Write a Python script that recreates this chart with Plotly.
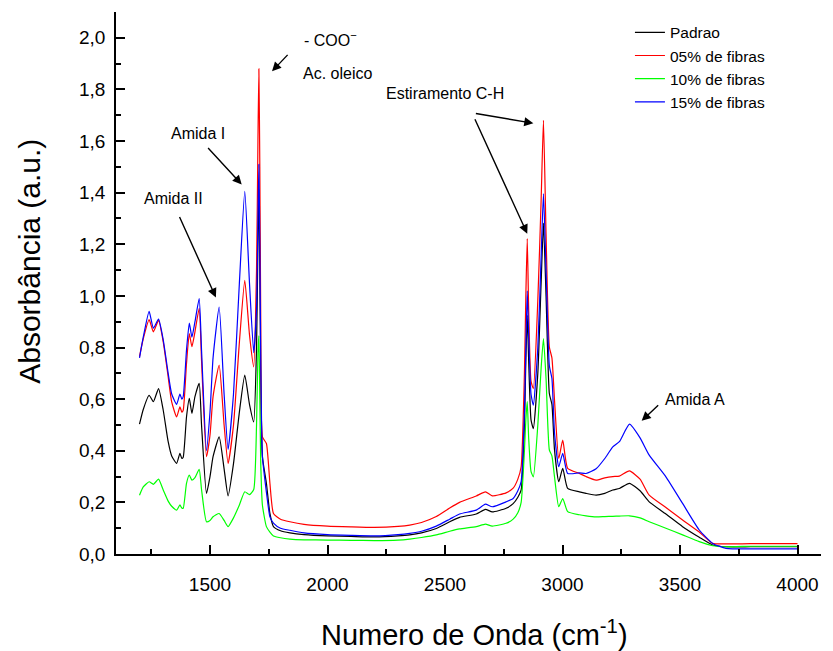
import plotly.graph_objects as go

wavenumber = [1200, 1216, 1241, 1259, 1281, 1301, 1322, 1337, 1358, 1372, 1380, 1386, 1400, 1412, 1423, 1436,
              1454, 1464, 1485, 1500, 1513, 1539, 1560, 1577, 1600, 1625, 1648, 1668, 1686, 1698, 1704, 1708,
              1712, 1716, 1723, 1740, 1755, 1770, 1800, 1840, 1900, 2000, 2100, 2200, 2300, 2350, 2400, 2463,
              2520, 2562, 2633, 2672, 2701, 2760, 2790, 2810, 2824, 2838, 2844, 2850, 2856, 2866, 2876, 2895,
              2909, 2919, 2930, 2944, 2955, 2966, 2984, 3001, 3022, 3072, 3100, 3143, 3180, 3214, 3242, 3285,
              3330, 3369, 3440, 3511, 3582, 3639, 3696, 3800, 3900, 4000]

padrao = [0.503, 0.56, 0.615, 0.59, 0.641, 0.557, 0.435, 0.38, 0.351, 0.39, 0.37, 0.375, 0.531, 0.603, 0.545, 0.61,
          0.661, 0.5, 0.235, 0.30, 0.377, 0.454, 0.33, 0.225, 0.35, 0.55, 0.693, 0.58, 0.512, 0.8, 1.2, 1.41,
          1.1, 0.7, 0.377, 0.274, 0.157, 0.106, 0.09, 0.082, 0.075, 0.07, 0.068, 0.066, 0.07, 0.074, 0.082, 0.099,
          0.125, 0.142, 0.155, 0.173, 0.163, 0.177, 0.195, 0.22, 0.248, 0.5, 0.75, 0.925, 0.75, 0.52, 0.486, 0.7,
          1.05, 1.282, 1.0, 0.622, 0.58, 0.403, 0.28, 0.332, 0.254, 0.241, 0.235, 0.228, 0.235, 0.248, 0.254, 0.274,
          0.245, 0.202, 0.155, 0.106, 0.065, 0.035, 0.028, 0.028, 0.028, 0.028]

fibras05 = [0.765, 0.834, 0.908, 0.861, 0.905, 0.822, 0.686, 0.589, 0.531, 0.57, 0.55, 0.557, 0.738, 0.854, 0.803, 0.861,
            0.952, 0.75, 0.377, 0.46, 0.61, 0.732, 0.50, 0.351, 0.50, 0.82, 1.06, 0.85, 0.725, 1.1, 1.6, 1.88,
            1.5, 0.9, 0.454, 0.428, 0.274, 0.157, 0.135, 0.125, 0.115, 0.108, 0.105, 0.103, 0.107, 0.112, 0.122, 0.145,
            0.178, 0.2, 0.225, 0.241, 0.225, 0.237, 0.255, 0.29, 0.338, 0.70, 1.0, 1.222, 0.95, 0.67, 0.641, 0.983,
            1.37, 1.68, 1.24, 0.802, 0.76, 0.596, 0.37, 0.441, 0.332, 0.312, 0.30, 0.286, 0.295, 0.30, 0.302, 0.322,
            0.29, 0.228, 0.18, 0.132, 0.085, 0.041, 0.039, 0.04, 0.04, 0.04]

fibras10 = [0.228, 0.26, 0.28, 0.27, 0.29, 0.248, 0.205, 0.185, 0.17, 0.19, 0.178, 0.177, 0.274, 0.306, 0.286, 0.296,
            0.328, 0.25, 0.125, 0.13, 0.144, 0.157, 0.13, 0.106, 0.14, 0.19, 0.241, 0.23, 0.25, 0.5, 0.78, 0.845,
            0.6, 0.35, 0.19, 0.106, 0.085, 0.07, 0.063, 0.058, 0.055, 0.054, 0.053, 0.052, 0.054, 0.058, 0.064, 0.074,
            0.088, 0.097, 0.106, 0.116, 0.108, 0.119, 0.135, 0.16, 0.2, 0.4, 0.52, 0.59, 0.45, 0.32, 0.299, 0.5,
            0.72, 0.835, 0.68, 0.403, 0.38, 0.299, 0.183, 0.215, 0.164, 0.152, 0.148, 0.144, 0.145, 0.146, 0.147, 0.148,
            0.14, 0.125, 0.1, 0.074, 0.048, 0.032, 0.028, 0.03, 0.03, 0.03]

fibras15 = [0.76, 0.84, 0.94, 0.875, 0.91, 0.83, 0.70, 0.62, 0.58, 0.62, 0.60, 0.61, 0.79, 0.895, 0.84, 0.90,
            0.99, 0.79, 0.40, 0.55, 0.76, 0.957, 0.62, 0.405, 0.62, 1.05, 1.405, 1.05, 0.78, 0.95, 1.3, 1.51,
            1.2, 0.75, 0.38, 0.24, 0.144, 0.12, 0.10, 0.092, 0.082, 0.075, 0.072, 0.07, 0.075, 0.08, 0.088, 0.108,
            0.135, 0.155, 0.17, 0.193, 0.183, 0.202, 0.215, 0.245, 0.28, 0.55, 0.8, 1.02, 0.85, 0.62, 0.577, 0.8,
            1.15, 1.396, 1.1, 0.73, 0.68, 0.47, 0.338, 0.39, 0.312, 0.314, 0.312, 0.33, 0.37, 0.415, 0.435, 0.503,
            0.45, 0.383, 0.299, 0.196, 0.093, 0.041, 0.022, 0.02, 0.02, 0.02]

series_names = ["Padrao", "05% de fibras", "10% de fibras", "15% de fibras"]
series_values = [padrao, fibras05, fibras10, fibras15]
series_colors = ["#000000", "#FF0000", "#00FF00", "#0000FF"]

FONT = "Liberation Sans, Arial, sans-serif"

fig = go.Figure()
for name, vals, col in zip(series_names, series_values, series_colors):
    fig.add_trace(go.Scatter(x=wavenumber, y=vals, name=name, mode="lines",
                             line=dict(color=col, width=1.2, shape="spline", smoothing=0.5)))

axis_common = dict(showline=True, linecolor="black", linewidth=1.6, ticks="inside", ticklen=9,
                   tickwidth=1.6, tickcolor="black", showgrid=False, zeroline=False, mirror=False,
                   tickfont=dict(family=FONT, size=19, color="black"))

fig.update_xaxes(range=[1100, 4100], tick0=1000, dtick=500, tickformat="d", ticklabelstandoff=12,
                 minor=dict(ticks="inside", ticklen=5, dtick=250, tick0=1000, tickwidth=1.6, tickcolor="black"),
                 **axis_common)
fig.update_yaxes(range=[0, 2.1], tick0=0, dtick=0.2, tickformat=".1f", ticklabelstandoff=5,
                 minor=dict(ticks="inside", ticklen=5, dtick=0.1, tick0=0, tickwidth=1.6, tickcolor="black"),
                 **axis_common)

ann = []
ann.append(dict(text="Numero de Onda (cm<sup>-1</sup>)", xref="paper", yref="paper", x=0.508, y=-0.145,
                xanchor="center", yanchor="middle", showarrow=False,
                font=dict(family=FONT, size=29, color="black")))
ann.append(dict(text="Absorbância (a.u.)", xref="paper", yref="paper", x=-0.122, y=0.541,
                xanchor="center", yanchor="middle", textangle=-90, showarrow=False,
                font=dict(family=FONT, size=30, color="black")))

labels = [("- COO<sup>−</sup>", 1891, 1.997), ("Ac. oleico", 1887, 1.862), ("Amida I", 1325, 1.63),
          ("Amida II", 1209, 1.378), ("Estiramento C-H", 2240, 1.784), ("Amida A", 3428, 0.60)]
for t, x, y in labels:
    ann.append(dict(text=t, x=x, y=y, xref="x", yref="y", xanchor="left", yanchor="middle",
                    showarrow=False, font=dict(family=FONT, size=16, color="black")))

arrows = [(1764, 1.87, 17, -18), (1635, 1.432, -35, -38), (1525, 0.994, -37, -82),
          (2876, 1.669, -59, -10), (2850, 1.241, -53, -116), (3337, 0.516, 18, -17)]
for x, y, ax, ay in arrows:
    ann.append(dict(text="", x=x, y=y, xref="x", yref="y", ax=ax, ay=ay, axref="pixel", ayref="pixel",
                    showarrow=True, arrowhead=2, arrowsize=1.3, arrowwidth=1.4, arrowcolor="black"))

fig.update_layout(
    width=833, height=651, autosize=False,
    margin=dict(l=116, r=12, t=12, b=97),
    paper_bgcolor="white", plot_bgcolor="white",
    separators=",.",
    font=dict(family=FONT, color="black"),
    annotations=ann,
    legend=dict(x=0.729, y=0.993, xanchor="left", yanchor="top", bgcolor="rgba(0,0,0,0)",
                font=dict(family=FONT, size=15.5, color="black"), tracegroupgap=0, itemwidth=30),
)

fig.write_html("out.html")
